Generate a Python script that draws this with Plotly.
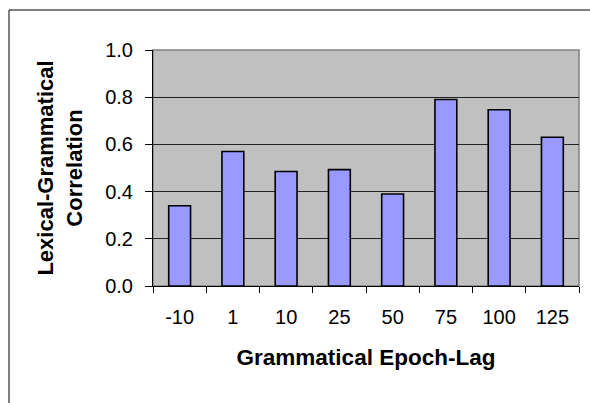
import plotly.graph_objects as go

categories = ["-10", "1", "10", "25", "50", "75", "100", "125"]
correlation = [0.34, 0.57, 0.485, 0.493, 0.39, 0.79, 0.747, 0.63]
y_ticks = [0.0, 0.2, 0.4, 0.6, 0.8, 1.0]

W, H = 590, 403
L, R, T, B = 153, 11, 50, 117
pw = W - L - R
ph = H - T - B

fig = go.Figure(
    go.Bar(
        x=categories,
        y=correlation,
        marker=dict(color="#9999FF", line=dict(color="black", width=1.6)),
        width=0.41,
    )
)

font = "Liberation Sans, Arial, sans-serif"

fx0 = (9 - L) / pw
fy1 = (H - B - 10) / ph
frame_path = f"M {fx0},-0.6 L {fx0},{fy1} L 1.06,{fy1}"

fig.update_layout(
    width=W,
    height=H,
    margin=dict(l=L, r=R, t=T, b=B, pad=0),
    paper_bgcolor="white",
    plot_bgcolor="#C0C0C0",
    showlegend=False,
    font=dict(family=font, color="black", size=20),
    xaxis=dict(
        type="category",
        tickson="boundaries",
        ticks="outside",
        ticklen=6,
        tickwidth=1,
        tickcolor="black",
        showline=True,
        linecolor="black",
        linewidth=1,
        showgrid=False,
        tickfont=dict(size=20),
        ticklabelstandoff=13,
        title=dict(text="<b>Grammatical Epoch-Lag</b>", font=dict(size=22.5), standoff=22),
    ),
    yaxis=dict(
        range=[0, 1],
        tickvals=y_ticks,
        tickformat=".1f",
        ticks="outside",
        ticklen=7,
        tickwidth=1,
        tickcolor="black",
        showline=True,
        linecolor="black",
        linewidth=1,
        showgrid=True,
        gridcolor="#222222",
        gridwidth=1,
        zeroline=False,
        tickfont=dict(size=20),
        ticklabelstandoff=8,
        title=dict(text="<b>Lexical-Grammatical<br>Correlation</b>", font=dict(size=22), standoff=16),
    ),
    shapes=[
        dict(type="rect", xref="paper", yref="paper", x0=0, x1=1, y0=0, y1=1,
             line=dict(color="#808080", width=1.5), layer="below"),
        dict(type="path", xref="paper", yref="paper", path=frame_path,
             line=dict(color="black", width=1), layer="above"),
    ],
)

fig.write_html(
    "out.html",
    config={"displayModeBar": False},
    post_script="document.body.style.margin='0';document.body.style.overflow='hidden';",
)
